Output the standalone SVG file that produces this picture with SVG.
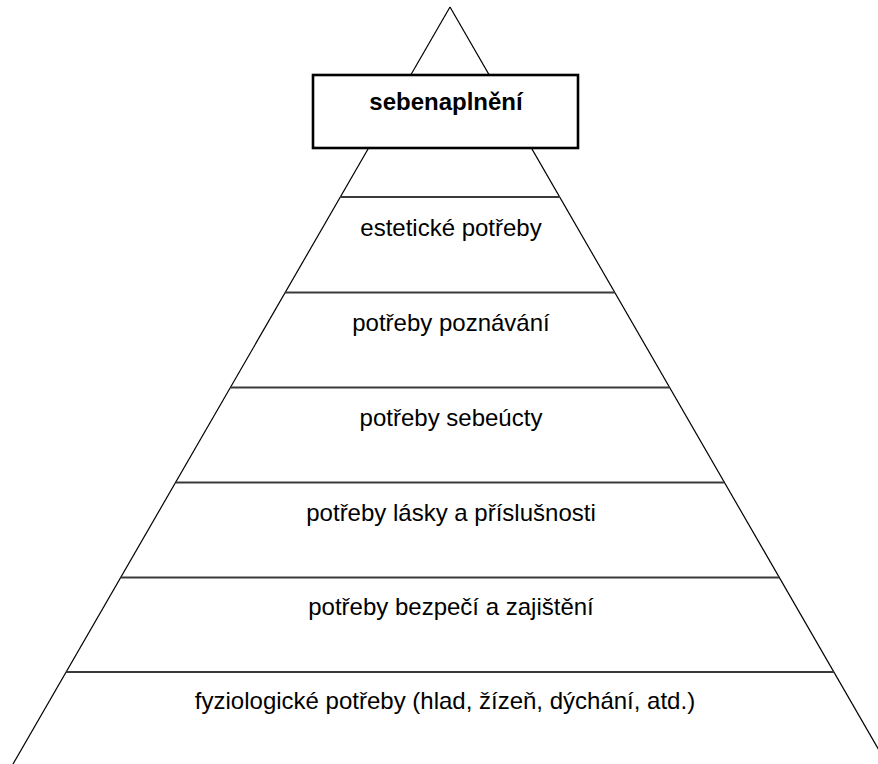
<svg xmlns="http://www.w3.org/2000/svg" width="878" height="764" viewBox="0 0 878 764">
<style>
.side{stroke:#000;stroke-width:1.2;fill:none}
.sep{stroke:#3a3a3a;stroke-width:2;fill:none}
.lbl{font-family:"Liberation Sans",Arial,sans-serif;font-size:24px;fill:#000;text-anchor:middle}
.bold{font-weight:bold}
.box{fill:#fff;stroke:#000;stroke-width:2.6}
</style>
<rect width="878" height="764" fill="#fff"/>
<g id="pyramid">
<line class="side" x1="450" y1="7" x2="9" y2="771"/>
<line class="side" x1="450" y1="7" x2="891" y2="771"/>
<line class="sep" x1="340.3" y1="197" x2="559.7" y2="197"/>
<line class="sep" x1="285.2" y1="292.5" x2="614.8" y2="292.5"/>
<line class="sep" x1="230.3" y1="387.5" x2="669.7" y2="387.5"/>
<line class="sep" x1="175.5" y1="482.5" x2="724.5" y2="482.5"/>
<line class="sep" x1="120.6" y1="577.5" x2="779.4" y2="577.5"/>
<line class="sep" x1="66.1" y1="672" x2="833.9" y2="672"/>
</g>
<g id="sebenaplneni">
<rect class="box" x="313" y="75" width="265" height="73"/>
<text class="lbl bold" x="446" y="110">sebenaplnění</text>
</g>
<g id="esteticke"><text class="lbl" x="451" y="236">estetické potřeby</text></g>
<g id="poznavani"><text class="lbl" x="451" y="331">potřeby poznávání</text></g>
<g id="sebeucta"><text class="lbl" x="451" y="426">potřeby sebeúcty</text></g>
<g id="laska"><text class="lbl" x="451" y="521">potřeby lásky a příslušnosti</text></g>
<g id="bezpeci"><text class="lbl" x="451" y="615">potřeby bezpečí a zajištění</text></g>
<g id="fyziologicke"><text class="lbl" x="445" y="709">fyziologické potřeby (hlad, žízeň, dýchání, atd.)</text></g>
</svg>
